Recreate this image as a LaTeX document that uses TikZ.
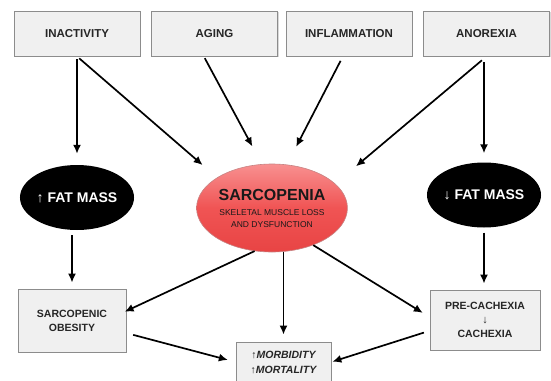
\documentclass[tikz,border=0pt]{standalone}
\usepackage{fontspec}
\setmainfont{Liberation Sans}
\usetikzlibrary{arrows.meta,shapes.geometric,shadows}

\definecolor{boxfill}{HTML}{F0F0F0}
\definecolor{boxline}{HTML}{8C8C8C}
\definecolor{sarctop}{HTML}{F89090}
\definecolor{sarcmid}{HTML}{F05454}
\definecolor{sarcbot}{HTML}{E84444}

\tikzset{
    causebox/.style={draw=boxline, fill=boxfill, line width=0.8pt,
        minimum width=126pt, minimum height=45pt, inner sep=0pt,
        text=black!85, font=\fontsize{11.5}{13}\selectfont\bfseries,
        drop shadow={opacity=0.3, shadow xshift=1.2pt, shadow yshift=-1.2pt}},
    endbox/.style={causebox, align=center,
        font=\fontsize{10.5}{14}\selectfont\bfseries},
    fatmass/.style={ellipse, fill=black, text=white, inner sep=0pt,
        minimum width=113pt, minimum height=65pt,
        font=\fontsize{14}{16}\selectfont\bfseries},
    arr/.style={-{Latex[length=9pt,width=8pt]}, line width=1.7pt}
}

\begin{document}
\begin{tikzpicture}[x=1pt,y=-1pt]
    \useasboundingbox (0,0) rectangle (551,380);
    \clip (0,0) rectangle (551,380);

    % Causes
    \foreach \x/\nm/\txt in {
        77/inact/INACTIVITY,
        214.5/aging/AGING,
        349/infl/INFLAMMATION,
        486.5/anor/ANOREXIA
        } {
        \node[causebox] (\nm) at (\x,33.5) {\txt};
    }

    % Middle row
    \node[fatmass] (fatup) at (77,197.5) {↑ FAT MASS};
    \node[fatmass] (fatdown) at (484,195) {↓ FAT MASS};
    \node[ellipse, draw=sarcbot!70!black!60, line width=0.6pt,
          top color=sarctop, bottom color=sarcbot, middle color=sarcmid,
          minimum width=142pt, minimum height=88pt, inner sep=0pt,
          align=center, text=black!90] (sarc) at (272,208)
        {\fontsize{16}{18}\selectfont\bfseries SARCOPENIA\\[3pt]
         \fontsize{8.5}{11}\selectfont SKELETAL MUSCLE LOSS\\
         \fontsize{8.5}{11}\selectfont AND DYSFUNCTION};

    % Outcomes
    \node[endbox, minimum width=108pt, minimum height=63pt] (obes) at (72,320.5)
        {SARCOPENIC\\OBESITY};
    \node[endbox, minimum width=110pt, minimum height=60pt] (cach) at (485,320)
        {PRE-CACHEXIA\\{\fontsize{11}{13}\selectfont\mdseries ↓}\\CACHEXIA};
    \node[endbox, minimum width=95pt, minimum height=40pt] (morb) at (283.5,362)
        {\itshape ↑MORBIDITY\\[1pt]\itshape ↑MORTALITY};

    % Arrows from the causes
    \draw[arr, shorten <=3pt, shorten >=11pt] (inact.south) -- (fatup.north);
    \draw[arr, shorten <=3pt, shorten >=19pt] (inact.south) -- (sarc.151);
    \draw[arr, shorten <=2pt, shorten >=20pt] (aging.-115) -- (sarc.103);
    \draw[arr, shorten <=5pt, shorten >=20pt] (infl.-105) -- (sarc.71);
    \draw[arr, shorten <=6pt, shorten >=27pt] (anor.south) -- (sarc.21);
    \draw[arr, shorten <=6pt, shorten >=9pt] (anor.south -| fatdown.north) -- (fatdown.north);

    % Arrows to the outcomes
    \draw[arr, shorten <=5pt, shorten >=6pt] (obes.north |- fatup.south) -- (obes.north);
    \draw[arr, shorten <=5pt, shorten >=6pt] (fatdown.south) -- (fatdown.south |- cach.north);
    \draw[arr, shorten >=-2pt] (sarc.-112) -- (obes.10);
    \draw[arr, shorten >=7pt] (sarc.south -| morb.north) -- (morb.north);
    \draw[arr, shorten >=8pt] (sarc.-42) -- (cach.177);
    \draw[arr, shorten <=7pt, shorten >=8pt] (obes.-13) -- (morb.west);
    \draw[arr, shorten <=6pt, shorten >=1pt] (cach.191) -- (morb.east);
\end{tikzpicture}
\end{document}
